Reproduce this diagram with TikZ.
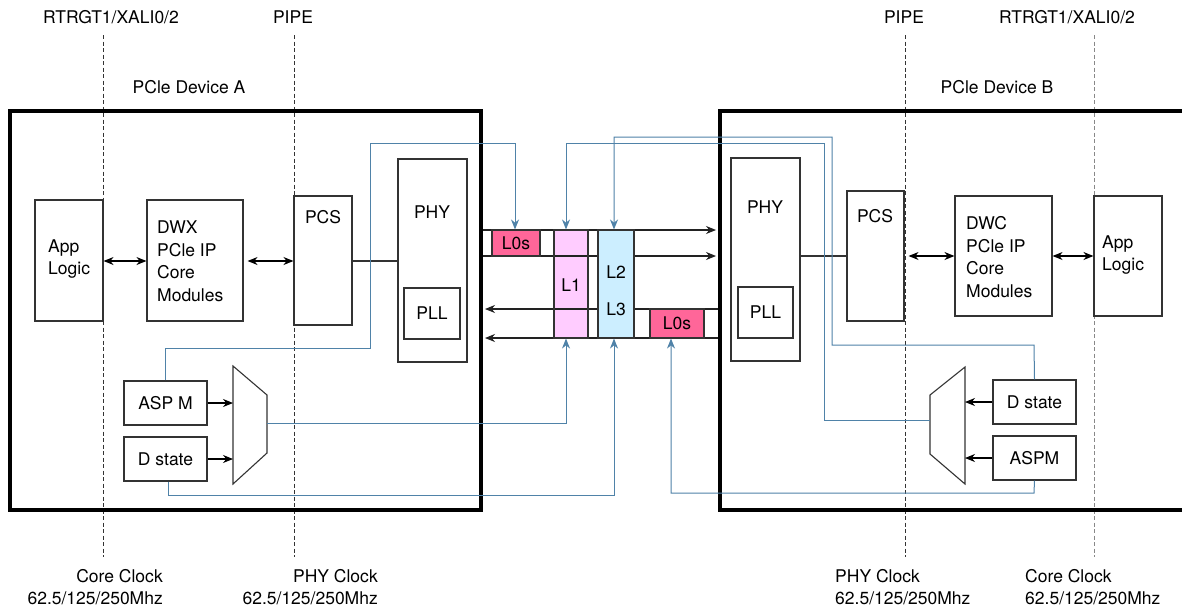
\documentclass[tikz,border=0pt]{standalone}
\usepackage{fontspec}
\setmainfont{TeX Gyre Heros}
\usetikzlibrary{arrows.meta,fit}
\definecolor{boxgray}{HTML}{333333}
\definecolor{lanegray}{HTML}{222222}
\definecolor{sigblue}{HTML}{4F82A8}
\definecolor{dashgray}{HTML}{333333}
\definecolor{dashlight}{HTML}{888888}
\definecolor{lzeros}{HTML}{FF6699}
\definecolor{lone}{HTML}{FFCCFF}
\definecolor{ltwo}{HTML}{CCEEFF}
\begin{document}
\begin{tikzpicture}[x=1pt,y=-1pt,
  font=\fontsize{17.5}{22.5}\selectfont,
  box/.style={draw=boxgray, line width=1.1pt, inner sep=0pt},
  dev/.style={draw=black, line width=4pt, inner sep=0pt},
  txt/.style={inner sep=0pt, align=left},
  sig/.style={draw=sigblue, line width=1pt, -{Stealth[length=10pt,width=8pt]}},
  lanearr/.style={draw=lanegray, line width=1.1pt, -{Stealth[length=10pt,width=8pt]}},
  dbl/.style={draw=black, line width=1.1pt, {Stealth[length=10pt,width=8pt]}-{Stealth[length=10pt,width=8pt]}},
  inarr/.style={draw=black, line width=1.1pt, -{Stealth[length=10pt,width=8pt]}},
  clk/.style={line width=1pt, dash pattern=on 4pt off 2.5pt},
]
\useasboundingbox (0,0) rectangle (1182,608);
\fill[white] (0,0) rectangle (1182,608);

% clock domain dashed lines
\draw[clk, draw=dashgray] (103,35) -- (103,557);
\draw[clk, draw=dashgray] (294,35) -- (294,557);
\draw[clk, draw=dashgray] (905,35) -- (905,557);
\draw[clk, draw=dashlight] (1094,35) -- (1094,557);

% top labels
\node[txt] (ifA) at (111,17) {RTRGT1/XALI0/2};
\node[txt] (pipeA) at (293,17) {PIPE};
\node[txt] (pipeB) at (904,17) {PIPE};
\node[txt] (ifB) at (1067,17) {RTRGT1/XALI0/2};
\node[txt] (nameA) at (189,87) {PCle Device A};
\node[txt] (nameB) at (997,87) {PCle Device B};

% bottom labels
\node[txt, align=right, anchor=north east] (clkA1) at (163,569) {Core Clock\\62.5/125/250Mhz};
\node[txt, align=right, anchor=north east] (clkA2) at (378,569) {PHY Clock\\62.5/125/250Mhz};
\node[txt, align=left, anchor=north west] (clkB2) at (835,569) {PHY Clock\\62.5/125/250Mhz};
\node[txt, align=left, anchor=north west] (clkB1) at (1025,569) {Core Clock\\62.5/125/250Mhz};

% device boxes
\node[dev, fit={(10,110.5) (481,510)}] (devA) {};
\node[dev, fit={(720,110.5) (1195,510)}] (devB) {};

% ---------------- Device A ----------------
\node[box, fit={(35,200) (103,321)}] (appA) {};
\node[txt, anchor=west] (appAt) at (48,259) {App\\Logic};
\node[box, fit={(147,200) (243,321)}] (dwxA) {};
\node[txt, anchor=west] (dwxAt) at (157,261) {DWX\\PCle IP\\Core\\Modules};
\node[box, fit={(294,196) (352,325)}] (pcsA) {};
\node[txt] (pcsAt) at (323,217) {PCS};
\node[box, fit={(398,159) (467,362)}] (phyA) {};
\node[txt] (phyAt) at (432,212) {PHY};
\node[box, fit={(404,288) (460,339)}] (pllA) {};
\node[txt] (pllAt) at (pllA.center) {PLL};
\node[box, fit={(124,381) (207,425)}] (aspmA) {};
\node[txt] (aspmAt) at (aspmA.center) {ASP M};
\node[box, fit={(124,437) (207,481)}] (dstA) {};
\node[txt] (dstAt) at (dstA.center) {D state};
\draw[box] (233,366) -- (267,395) -- (267,453) -- (233,484) -- cycle;
\coordinate (muxAout) at (267,423);
\coordinate (muxAin1) at (233,403);
\coordinate (muxAin2) at (233,459);

\draw[dbl] (appA.east |- 0,261) -- (dwxA.west |- 0,261);
\draw[dbl] (dwxA.east |- 0,261) ++(4,0) -- (pcsA.west |- 0,261);
\draw[box] (pcsA.east |- 0,261) -- (phyA.west |- 0,261);
\draw[inarr] (aspmA.east |- muxAin1) -- (muxAin1);
\draw[inarr] (dstA.east |- muxAin2) -- (muxAin2);

% ---------------- Device B ----------------
\node[box, fit={(731,158) (800,361)}] (phyB) {};
\node[txt] (phyBt) at (765,207) {PHY};
\node[box, fit={(738,287) (793,338)}] (pllB) {};
\node[txt] (pllBt) at (pllB.center) {PLL};
\node[box, fit={(847,191) (904,321)}] (pcsB) {};
\node[txt] (pcsBt) at (875,216) {PCS};
\node[box, fit={(955,196) (1052,316)}] (dwcB) {};
\node[txt, anchor=west] (dwcBt) at (966,257) {DWC\\PCle IP\\Core\\Modules};
\node[box, fit={(1094,196) (1162,316)}] (appB) {};
\node[txt, anchor=west] (appBt) at (1102,255) {App\\Logic};
\node[box, fit={(993,380) (1076,424)}] (dstB) {};
\node[txt] (dstBt) at (dstB.center) {D state};
\node[box, fit={(993,436) (1076,480)}] (aspmB) {};
\node[txt] (aspmBt) at (aspmB.center) {ASPM};
\draw[box] (965,367) -- (965,484) -- (930,454) -- (930,395) -- cycle;
\coordinate (muxBout) at (930,420);
\coordinate (muxBin1) at (965,402);
\coordinate (muxBin2) at (965,458);

\draw[box] (phyB.east |- 0,256) -- (pcsB.west |- 0,256);
\draw[dbl] (pcsB.east |- 0,256) ++(4,0) -- (dwcB.west |- 0,256);
\draw[dbl] (dwcB.east |- 0,256) -- (appB.west |- 0,256);
\draw[inarr] (dstB.west |- muxBin1) -- (muxBin1);
\draw[inarr] (aspmB.west |- muxBin2) -- (muxBin2);

% ---------------- Link lanes ----------------
\fill[lone] (554,230) rectangle (588,338);
\coordinate (ln1A) at (483,230); \coordinate (ln1B) at (716,230);
\coordinate (ln2A) at (483,256); \coordinate (ln2B) at (716,256);
\coordinate (ln3A) at (485,309); \coordinate (ln3B) at (718,309);
\coordinate (ln4A) at (485,338); \coordinate (ln4B) at (718,338);
\draw[lanearr] (ln1A) -- (ln1B);
\draw[lanearr] (ln2A) -- (ln2B);
\draw[lanearr] (ln3B) -- (ln3A);
\draw[lanearr] (ln4B) -- (ln4A);

\node[box, fill=lzeros, fit={(492,230) (540,256)}] (l0sA) {};
\node[txt] (l0sAt) at (l0sA.center) {L0s};
\node[box, fit={(554,230) (588,338)}] (l1) {};
\node[txt] (l1t) at (571,285) {L1};
\node[box, fill=ltwo, fit={(598,230) (634,338)}] (l23) {};
\node[txt] (l2t) at (616,272) {L2};
\node[txt] (l3t) at (616,309) {L3};
\node[box, fill=lzeros, fit={(650,309) (704,338)}] (l0sB) {};
\node[txt] (l0sBt) at (l0sB.center) {L0s};

% ---------------- Control signals ----------------
\draw[sig] (aspmA.north -| 165,0) -- (165,348) -- (370,348) -- (370,143) -- (515,143) -- (l0sA.north -| 515,0);
\draw[sig] (muxAout) -- (566,423) -- (l1.south -| 566,0);
\draw[sig] (dstA.south -| 168,0) -- (168,495) -- (614,495) -- (l23.south -| 614,0);
\draw[sig] (aspmB.south) -- (1034,493) -- (671,493) -- (l0sB.south -| 671,0);
\draw[sig] (dstB.north) -- (1034,345) -- (832,345) -- (832,137) -- (614,137) -- (l23.north -| 614,0);
\draw[sig] (muxBout) -- (824,420) -- (824,143) -- (566,143) -- (l1.north -| 566,0);
\end{tikzpicture}
\end{document}
